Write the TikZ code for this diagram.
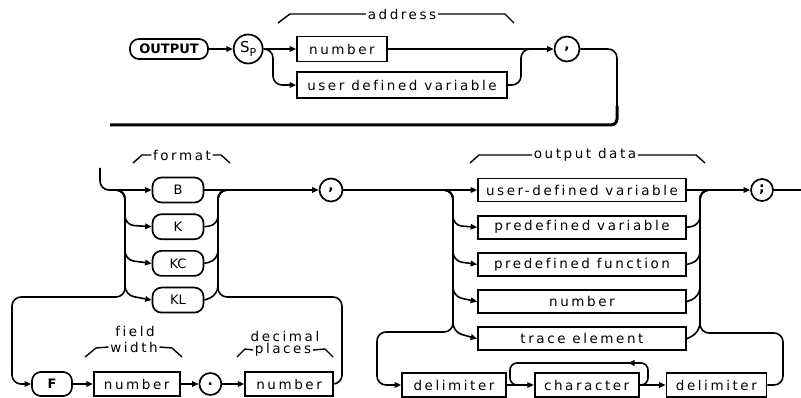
\documentclass[tikz,border=0pt]{standalone}
\usepackage{fontspec}
\setmainfont{DejaVu Sans}[LetterSpace=19, Ligatures=CommonOff]
\newfontfamily\kwfont{DejaVu Sans}
\usetikzlibrary{arrows.meta,positioning}

\begin{document}
\begin{tikzpicture}[
  x=1pt, y=-1pt,
  font=\fontsize{13.5}{15}\selectfont,
  >={Triangle[length=6.5pt,width=5.5pt]},
  line width=1.6pt,
  box/.style={
    draw, rectangle, inner sep=0pt, minimum height=24pt,
    line width=1.7pt
  },
  kw/.style={
    draw, rounded corners=9pt, inner sep=0pt, minimum height=25pt,
    font=\kwfont\fontsize{13}{15}\selectfont, line width=1.7pt
  },
  ring/.style={
    draw, circle, inner sep=0pt, minimum size=23pt, line width=1.7pt,
    font=\kwfont\bfseries\fontsize{14}{14}\selectfont
  },
  arr/.style={->, rounded corners=9pt},
  link/.style={rounded corners=9pt},
  wrap/.style={line width=3pt, rounded corners=6pt},
  brk/.style={line width=1.4pt},
  lbl/.style={inner sep=1pt}
]
  \useasboundingbox (0,0) rectangle (801,398);

  %% address part
  \node[kw, minimum width=78pt, minimum height=20pt,
        font=\kwfont\bfseries\fontsize{13}{15}\selectfont] (out) at (169,49) {OUTPUT};
  \node[ring, minimum size=29pt, right=24pt of out, font=\kwfont] (sp)
    {{\fontsize{15}{15}\selectfont S}\raisebox{-4pt}{\fontsize{11}{11}\selectfont P}};
  \node[box, minimum width=90pt, minimum height=25pt] (num) at (342,49) {number};
  \node[box, minimum width=210pt, minimum height=26pt] (udv) at (402,85) {user defined variable};
  \node[ring, minimum size=25pt] (adr) at (567,49) {,};
  \coordinate (wrapL) at (110,125);
  \draw[->] (out.east) -- (sp.west);
  \draw[->] (sp.east) -- (num.west);
  \draw[arr] (sp.east) -- (273,49) -- (273,85) -- (udv.west);
  \draw[->] (num.east) -- (adr.west);
  \draw[link] (udv.east) -- (521,85) -- (521,49) -- (536,49);
  \draw[link] (adr.east) -- (617,49) -- (617,112);
  \draw[wrap] (617,106) -- (617,125) -- (wrapL);
  \node[lbl] (address) at (402,14) {address};
  \draw[brk] (278,23) -- (290,14) -- (address.west);
  \draw[brk] (address.east) -- (505,14) -- (514,23);

  %% format part
  \coordinate (cont) at (100,168);
  \node[kw, minimum width=51pt] (fB) at (178,190) {B};
  \node[kw, minimum width=51pt, below=10pt of fB] (fK) {K};
  \node[kw, minimum width=51pt, below=10pt of fK] (fKC) {KC};
  \node[kw, minimum width=51pt, below=10pt of fKC] (fKL) {KL};
  \node[ring] (sep) at (331,190) {,};
  \node[kw, minimum width=40pt, minimum height=24pt,
        font=\kwfont\bfseries\fontsize{13}{15}\selectfont] (fF) at (52,384) {F};
  \node[box, minimum width=86pt, right=20pt of fF] (fw) {number};
  \node[ring, minimum size=22pt, right=18pt of fw] (pt) {.};
  \node[box, minimum width=88pt, right=22pt of pt] (dp) {number};
  \draw[arr] (cont) -- (100,190) -- (fB.west);
  \draw[arr] (112,190) -- (125,190) -- (125,225) -- (fK.west);
  \draw[arr] (112,190) -- (125,190) -- (125,260) -- (fKC.west);
  \draw[arr] (112,190) -- (125,190) -- (125,295) -- (fKL.west);
  \draw[arr] (112,190) -- (125,190) -- (125,297) -- (12,297) -- (12,384) -- (fF.west);
  \draw[->] (fB.east) -- (sep.west);
  \draw[link] (fK.east) -- (218,225) -- (218,190) -- (232,190);
  \draw[link] (fKC.east) -- (218,260) -- (218,190) -- (232,190);
  \draw[link] (fKL.east) -- (218,295) -- (218,190) -- (232,190);
  \draw[link] (dp.east) -- (342,384) -- (342,297) -- (218,297) -- (218,190) -- (232,190);
  \draw[->] (fF.east) -- (fw.west);
  \draw[->] (fw.east) -- (pt.west);
  \draw[->] (pt.east) -- (dp.west);
  \node[lbl] (fmt) at (182,155) {format};
  \draw[brk] (133,163) -- (142,155) -- (fmt.west);
  \draw[brk] (fmt.east) -- (221,155) -- (230,163);
  \node[lbl] (fwa) at (135,331) {field};
  \node[lbl] (fwb) at (134,347) {width};
  \draw[brk] (85,357) -- (96,348) -- (fwb.west);
  \draw[brk] (fwb.east) -- (172,348) -- (182,357);
  \node[lbl] (dpa) at (285,336) {decimal};
  \node[lbl] (dpb) at (283,350) {places};
  \draw[brk] (237,357) -- (245,349) -- (dpb.west);
  \draw[brk] (dpb.east) -- (325,349) -- (333,357);

  %% output data part
  \node[box, minimum width=208pt, minimum height=23pt] (od1) at (582,190) {user-defined variable};
  \node[box, minimum width=208pt, minimum height=23pt, below=12.5pt of od1] (od2) {predefined variable};
  \node[box, minimum width=208pt, minimum height=23pt, below=12.5pt of od2] (od3) {predefined function};
  \node[box, minimum width=208pt, minimum height=23pt, below=12.5pt of od3] (od4) {number};
  \node[box, minimum width=208pt, minimum height=23pt, below=12.5pt of od4] (od5) {trace element};
  \node[ring, minimum size=22pt] (end) at (762,190) {;};
  \coordinate (exit) at (801,190);
  \node[box, minimum width=104pt] (d1) at (454,385) {delimiter};
  \node[box, minimum width=104pt, right=27pt of d1] (chr) {character};
  \node[box, minimum width=100pt, right=26pt of chr] (d2) {delimiter};
  \draw[->] (sep.east) -- (od1.west);
  \draw[arr] (440,190) -- (453,190) -- (453,225.5) -- (od2.west);
  \draw[arr] (440,190) -- (453,190) -- (453,261) -- (od3.west);
  \draw[arr] (440,190) -- (453,190) -- (453,296.5) -- (od4.west);
  \draw[arr] (440,190) -- (453,190) -- (453,332) -- (od5.west);
  \draw[arr] (440,190) -- (453,190) -- (453,332) -- (377,332) -- (377,385) -- (d1.west);
  \draw[->] (od1.east) -- (end.west);
  \draw[link] (od2.east) -- (700,225.5) -- (700,190) -- (712,190);
  \draw[link] (od3.east) -- (700,261) -- (700,190) -- (712,190);
  \draw[link] (od4.east) -- (700,296.5) -- (700,190) -- (712,190);
  \draw[link] (od5.east) -- (700,332) -- (700,190) -- (712,190);
  \draw[link] (d2.east) -- (783,385) -- (783,333) -- (700,333) -- (700,190) -- (712,190);
  \draw (end.east) -- (exit);
  \draw[->] (d1.east) -- (chr.west);
  \draw[->] (chr.east) -- (d2.west);
  \draw[arr, rounded corners=7pt] (chr.east) -- (648,385) -- (648,363) -- (628,363);
  \draw[link, rounded corners=7pt] (632,363) -- (510,363) -- (510,385) -- (522,385);
  \node[lbl] (odl) at (585,155) {output data};
  \draw[brk] (470,163) -- (479,155) -- (odl.west);
  \draw[brk] (odl.east) -- (696,155) -- (705,163);
\end{tikzpicture}
\end{document}
